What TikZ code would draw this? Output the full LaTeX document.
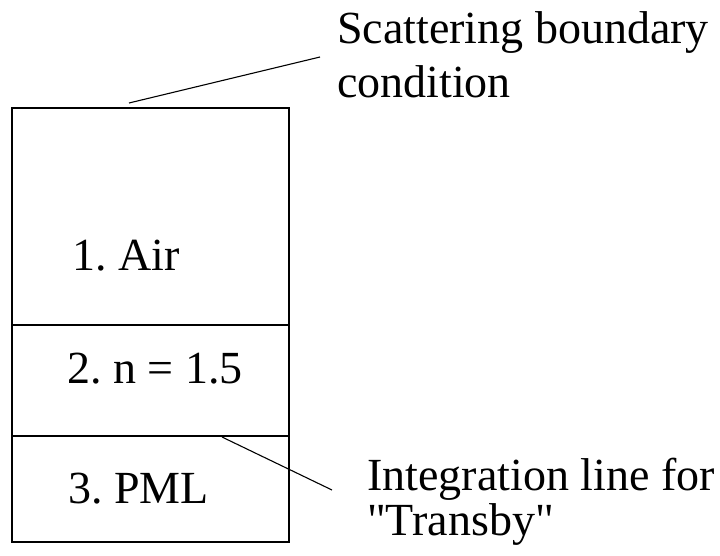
\documentclass[tikz,border=0pt]{standalone}
\usepackage{fontspec}
\setmainfont{Liberation Serif}[Ligatures=TeXOff]
\usetikzlibrary{positioning, calc}

\begin{document}
\begin{tikzpicture}[x=1pt, y=-1pt,
		label/.style = {anchor = base west, inner sep = 0pt, font = \fontsize{46}{54}\selectfont\frenchspacing},
		leader/.style = {line width = 1.1pt},
		layer/.style = {line width = 1.3pt},
	]
	\useasboundingbox (0,0) rectangle (720,555);

	% layered box
	\coordinate (TL) at (12,108);
	\coordinate (BR) at (289,542);
	\draw[layer] (TL) rectangle (BR);
	\coordinate (L1) at (12,325);
	\coordinate (R1) at (289,325);
	\coordinate (L2) at (12,436);
	\coordinate (R2) at (289,436);
	\draw[layer] (L1) -- (R1);
	\draw[layer] (L2) -- (R2);

	% layer labels
	\node[label] (air) at (72,270) {1. Air};
	\node[label] (glass) at (67,383) {2. n = 1.5};
	\node[label] (pml) at (68,503) {3. PML};

	% annotations
	\node[label] (scat) at (337,43) {Scattering boundary};
	\node[label] (cond) at (337,97) {condition};
	\node[label] (integ) at (367,490) {Integration line for};
	\node[label] (trans) at (367,535) {"Transby"};

	\coordinate (topend) at (129,103);
	\coordinate (topstart) at (320,57);
	\coordinate (botend) at (222,437);
	\coordinate (botstart) at (332,490);
	\draw[leader] (topstart) -- (topend);
	\draw[leader] (botstart) -- (botend);
\end{tikzpicture}
\end{document}
